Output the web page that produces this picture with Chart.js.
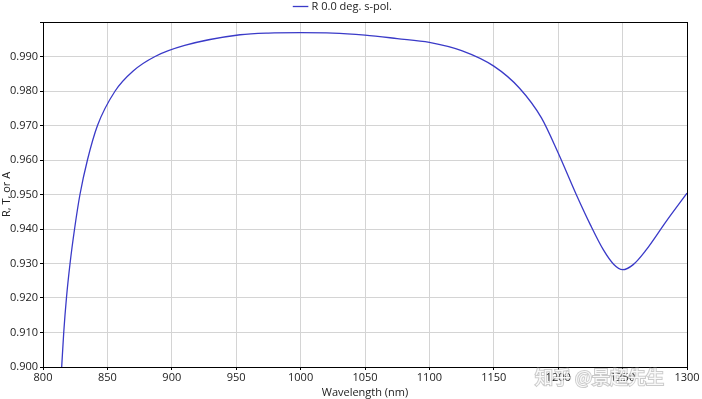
<!DOCTYPE html>
<html>
<head>
<meta charset="utf-8">
<script src="https://cdn.jsdelivr.net/npm/chart.js@4/dist/chart.umd.min.js"></script>
<style>
  html, body { margin: 0; padding: 0; background: #fff; }
  #wrap { width: 702px; height: 399px; }
</style>
</head>
<body>
<div id="wrap"><canvas id="chart" width="702" height="399"></canvas></div>
<script>
// values
const wavelengths = [814.5, 816.1, 818.2, 821.0, 824.5, 828.7, 834.5, 842.3, 856, 870, 887, 910,
  953, 975, 1000, 1025, 1050, 1075, 1100, 1125, 1150, 1170, 1187, 1200, 1214, 1225,
  1235, 1243, 1250, 1258, 1268, 1284, 1300];
const reflectance = [0.900, 0.910, 0.920, 0.930, 0.940, 0.950, 0.960, 0.970, 0.980, 0.9858, 0.990, 0.9932,
  0.9963, 0.9968, 0.9969, 0.9968, 0.9962, 0.9952, 0.9941, 0.9917, 0.9872, 0.9808, 0.9722, 0.9620, 0.9500, 0.9412,
  0.9340, 0.9298, 0.9282, 0.9296, 0.9338, 0.9423, 0.9504];
const seriesLabel = 'R 0.0 deg. s-pol.';
const xTitle = 'Wavelength (nm)';
const yTitle = 'R, T, or A';
const watermark = '知乎 @景超先生';

const FONT = '"Open Sans", "DejaVu Sans", sans-serif';

// black frame round the plot area, plus the site watermark
const frame = {
  id: 'frame',
  afterDraw(chart) {
    const { ctx, chartArea: a } = chart;
    ctx.save();
    ctx.strokeStyle = '#000';
    ctx.lineWidth = 1;
    ctx.strokeRect(Math.round(a.left) + 0.5, Math.round(a.top) + 0.5, Math.round(a.right - a.left), Math.round(a.bottom - a.top));
    ctx.font = '18px "Noto Sans CJK SC", sans-serif';
    ctx.textBaseline = 'middle';
    ctx.lineWidth = 2;
    ctx.strokeStyle = 'rgba(140,140,140,0.45)';
    ctx.strokeText(watermark, 535, 377);
    ctx.fillStyle = 'rgba(255,255,255,0.9)';
    ctx.fillText(watermark, 535, 377);
    ctx.restore();
  }
};

new Chart(document.getElementById('chart'), {
  type: 'line',
  data: {
    datasets: [{
      label: seriesLabel,
      data: wavelengths.map((w, i) => ({ x: w, y: reflectance[i] })),
      borderColor: '#3a3ac8',
      backgroundColor: '#3a3ac8',
      borderWidth: 1.3,
      pointRadius: 0,
      cubicInterpolationMode: 'monotone',
      fill: false
    }]
  },
  options: {
    responsive: false,
    animation: false,
    layout: { padding: { left: 0, right: 15, top: 0, bottom: 0 } },
    plugins: {
      legend: {
        position: 'top',
        labels: {
          color: '#222',
          font: { family: FONT, size: 11 },
          usePointStyle: true,
          pointStyle: 'line',
          boxWidth: 24,
          padding: 1
        }
      },
      tooltip: { enabled: false }
    },
    scales: {
      x: {
        type: 'linear',
        min: 800,
        max: 1300,
        afterFit: s => { s.height = 32; },
        ticks: { stepSize: 50, color: '#222', font: { family: FONT, size: 11 }, padding: 1, maxRotation: 0, callback: v => String(v) },
        grid: { color: '#d4d4d4', tickColor: '#000', tickLength: 3 },
        border: { color: '#000' },
        title: { display: true, text: xTitle, color: '#222', font: { family: FONT, size: 11 }, padding: { top: 0, bottom: 0 } }
      },
      y: {
        min: 0.9,
        max: 1.0,
        afterFit: s => { s.width = 43; },
        ticks: {
          stepSize: 0.01,
          color: '#222',
          font: { family: FONT, size: 11 },
          padding: 2,
          callback: v => v > 0.9995 ? '' : v.toFixed(3)
        },
        grid: { color: '#d4d4d4', tickColor: '#000', tickLength: 3 },
        border: { color: '#000' },
        title: { display: true, text: yTitle, color: '#222', font: { family: FONT, size: 11 }, padding: { top: 0, bottom: 0 } }
      }
    }
  },
  plugins: [frame]
});
</script>
</body>
</html>
